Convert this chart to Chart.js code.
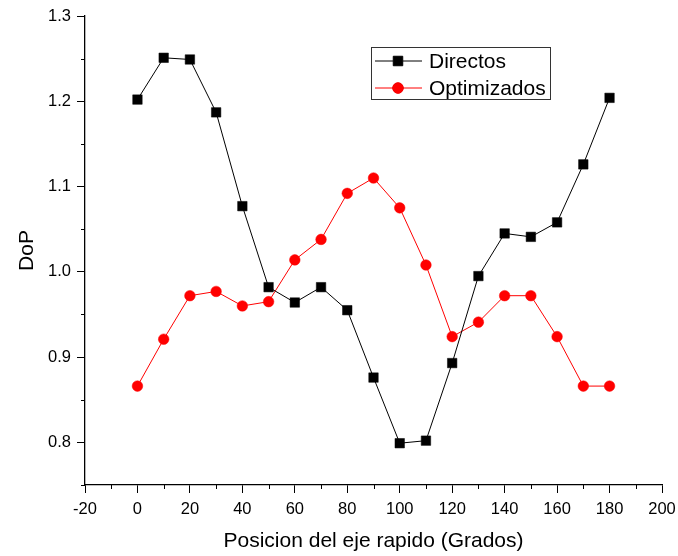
<!DOCTYPE html>
<html>
<head>
<meta charset="utf-8">
<script src="https://cdn.jsdelivr.net/npm/chart.js@4.4.0/dist/chart.umd.min.js"></script>
<style>
  html, body { margin: 0; padding: 0; background: #fff; }
  #wrap { width: 678px; height: 556px; }
</style>
</head>
<body>
<div id="wrap"><canvas id="chart"></canvas></div>
<script>
// Posicion del eje rapido (Grados)
const angles = [0, 10, 20, 30, 40, 50, 60, 70, 80, 90, 100, 110, 120, 130, 140, 150, 160, 170, 180]
const directos = [1.202, 1.251, 1.249, 1.187, 1.077, 0.982, 0.964, 0.982, 0.955, 0.876, 0.799, 0.802, 0.893, 0.995, 1.045, 1.041, 1.058, 1.126, 1.204]
const optimizados = [0.866, 0.921, 0.972, 0.977, 0.960, 0.965, 1.014, 1.038, 1.092, 1.110, 1.075, 1.008, 0.924, 0.941, 0.972, 0.972, 0.924, 0.866, 0.866]

const xTicks = [-20, 0, 20, 40, 60, 80, 100, 120, 140, 160, 180, 200]
const yTicks = [0.8, 0.9, 1.0, 1.1, 1.2, 1.3]
const xMinor = [-10, 10, 30, 50, 70, 90, 110, 130, 150, 170, 190]
const yMinor = [0.75, 0.85, 0.95, 1.05, 1.15, 1.25]

const FONT = "Arial, 'Liberation Sans', sans-serif"

// minor ticks, drawn outward like the major ones
const minorTicks = {
  id: "minorTicks",
  afterDraw(chart) {
    const { ctx, chartArea, scales } = chart
    ctx.save()
    ctx.strokeStyle = "#000"
    ctx.lineWidth = 1
    ctx.beginPath()
    xMinor.forEach(v => {
      const x = Math.round(scales.x.getPixelForValue(v)) + 0.5
      ctx.moveTo(x, chartArea.bottom)
      ctx.lineTo(x, chartArea.bottom + 4)
    })
    yMinor.forEach(v => {
      const y = Math.round(scales.y.getPixelForValue(v)) + 0.5
      ctx.moveTo(chartArea.left, y)
      ctx.lineTo(chartArea.left - 4, y)
    })
    ctx.stroke()
    ctx.restore()
  }
}

// boxed legend inside the plot, like the original
const boxLegend = {
  id: "boxLegend",
  afterDraw(chart) {
    const { ctx } = chart
    const left = 371, top = 47, w = 179, h = 52
    ctx.save()
    ctx.fillStyle = "#fff"
    ctx.fillRect(left, top, w, h)
    ctx.strokeStyle = "#333"
    ctx.lineWidth = 1
    ctx.strokeRect(left + 0.5, top + 0.5, w, h)
    chart.data.datasets.forEach((ds, i) => {
      const y = top + 14 + i * 27
      ctx.strokeStyle = ds.borderColor
      ctx.lineWidth = 1
      ctx.beginPath()
      ctx.moveTo(375, y)
      ctx.lineTo(422, y)
      ctx.stroke()
      Chart.helpers.drawPoint(ctx, {
        pointStyle: ds.pointStyle,
        radius: ds.pointRadius,
        borderWidth: 1
      }, 398, y)
      ctx.fillStyle = ds.pointBackgroundColor
      ctx.fill()
      ctx.fillStyle = "#000"
      ctx.font = "21px " + FONT
      ctx.textBaseline = "middle"
      ctx.textAlign = "left"
      ctx.fillText(ds.label, 429, y + 1)
    })
    ctx.restore()
  }
}

new Chart(document.getElementById("chart"), {
  type: "scatter",
  data: {
    datasets: [
      {
        label: "Directos",
        data: angles.map((a, i) => ({ x: a, y: directos[i] })),
        showLine: true,
        borderColor: "#000",
        borderWidth: 1,
        pointStyle: "rect",
        pointRadius: 6.7,
        pointBackgroundColor: "#000",
        pointBorderColor: "#000",
        pointBorderWidth: 0.5,
      },
      {
        label: "Optimizados",
        data: angles.map((a, i) => ({ x: a, y: optimizados[i] })),
        showLine: true,
        borderColor: "#ff0000",
        borderWidth: 1,
        pointStyle: "circle",
        pointRadius: 5.3,
        pointBackgroundColor: "#ff0000",
        pointBorderColor: "#ff0000",
        pointBorderWidth: 0.5,
      },
    ],
  },
  options: {
    responsive: true,
    maintainAspectRatio: false,
    animation: false,
    devicePixelRatio: 1,
    layout: { padding: { top: 16, right: 16, left: 0, bottom: 0 } },
    plugins: {
      legend: { display: false },
      tooltip: { enabled: false },
    },
    scales: {
      x: {
        type: "linear",
        min: -20,
        max: 200,
        afterBuildTicks: s => { s.ticks = xTicks.map(v => ({ value: v })) },
        afterFit: s => { s.height = 71; s.paddingRight = 16; s.paddingLeft = 0 },
        ticks: {
          color: "#000",
          font: { family: FONT, size: 16.5 },
          padding: 7,
          maxRotation: 0,
          autoSkip: false,
          callback: v => String(v),
        },
        grid: { drawOnChartArea: false, tickLength: 8, color: "#000", lineWidth: 1 },
        border: { color: "#000", width: 1.3 },
        title: {
          display: true,
          text: "Posicion del eje rapido (Grados)",
          color: "#000",
          font: { family: FONT, size: 21, lineHeight: 1.2 },
          padding: { top: 0, bottom: 2 },
        },
      },
      y: {
        min: 0.75,
        max: 1.3,
        afterBuildTicks: s => { s.ticks = yTicks.map(v => ({ value: v })) },
        afterFit: s => { s.width = 85; s.paddingTop = 0; s.paddingBottom = 0 },
        ticks: {
          color: "#000",
          font: { family: FONT, size: 16.5 },
          padding: 6,
          autoSkip: false,
          callback: v => v.toFixed(1),
        },
        grid: { drawOnChartArea: false, tickLength: 8, color: "#000", lineWidth: 1 },
        border: { color: "#000", width: 1.3 },
        title: {
          display: true,
          text: "DoP",
          color: "#000",
          font: { family: FONT, size: 21, lineHeight: 1.2 },
          padding: { top: 15, bottom: 0 },
        },
      },
    },
  },
  plugins: [minorTicks, boxLegend],
})
</script>
</body>
</html>
